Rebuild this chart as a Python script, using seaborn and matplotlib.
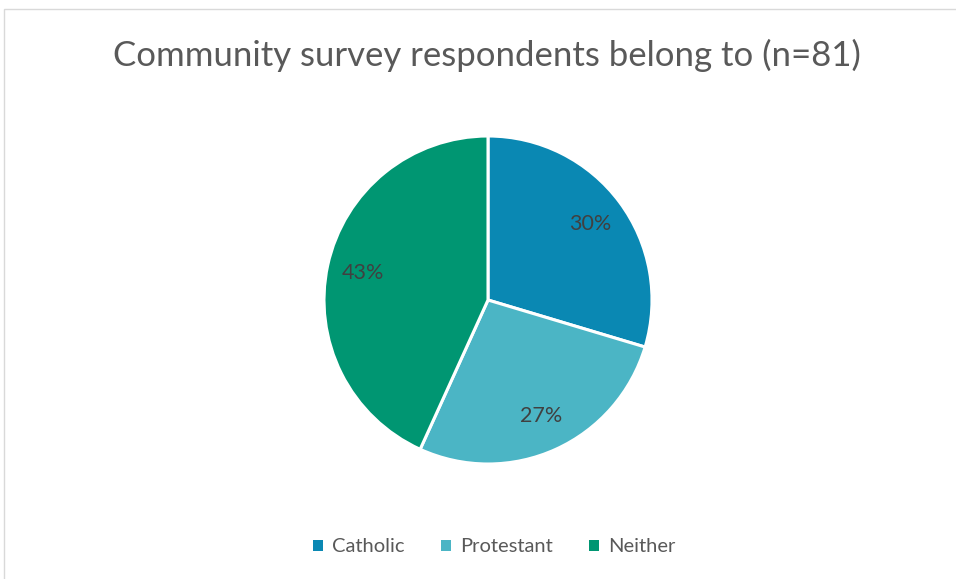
import matplotlib
matplotlib.use("Agg")
import matplotlib.pyplot as plt
from matplotlib.patches import Rectangle, Patch
import seaborn as sns

categories = ["Catholic", "Protestant", "Neither"]
counts = [24, 22, 35]
colors = ["#0A88B3", "#4BB5C5", "#009672"]
title = "Community survey respondents belong to (n=81)"

sns.set_theme(style="white")
plt.rcParams["font.family"] = ["Lato", "DejaVu Sans"]
palette = sns.color_palette(colors)

W, H = 956, 579
fig = plt.figure(figsize=(W / 100, H / 100), dpi=100)

# outer chart frame
fig.patches.append(Rectangle((4 / W, -0.05), 1.1, (H - 9) / H + 0.05,
                             transform=fig.transFigure, fill=False,
                             edgecolor="#D9D9D9", linewidth=1.0))

cx, cy, r = 488, 300, 164
ax = fig.add_axes([(cx - r) / W, (H - cy - r) / H, 2 * r / W, 2 * r / H])
wedges, texts, autotexts = ax.pie(
    counts, colors=palette, startangle=90, counterclock=False,
    autopct=lambda p: f"{p:.0f}%", pctdistance=0.78,
    wedgeprops=dict(edgecolor="white", linewidth=2.2),
    textprops=dict(color="#404040", fontsize=15.5),
)
ax.set_xlim(-1, 1)
ax.set_ylim(-1, 1)
ax.axis("off")

fig.text(487 / W, 1 - 55 / H, title, ha="center", va="center",
         fontsize=25, color="#595959")

handles = [Patch(facecolor=c, edgecolor="none") for c in palette]
fig.legend(handles, categories, loc="center", bbox_to_anchor=(494 / W, 1 - 547 / H),
           ncol=3, frameon=False, fontsize=14.5, labelcolor="#595959",
           handlelength=0.5, handleheight=0.5, handletextpad=0.45, columnspacing=1.8)

fig.savefig("out.png", dpi=100, facecolor="white")
